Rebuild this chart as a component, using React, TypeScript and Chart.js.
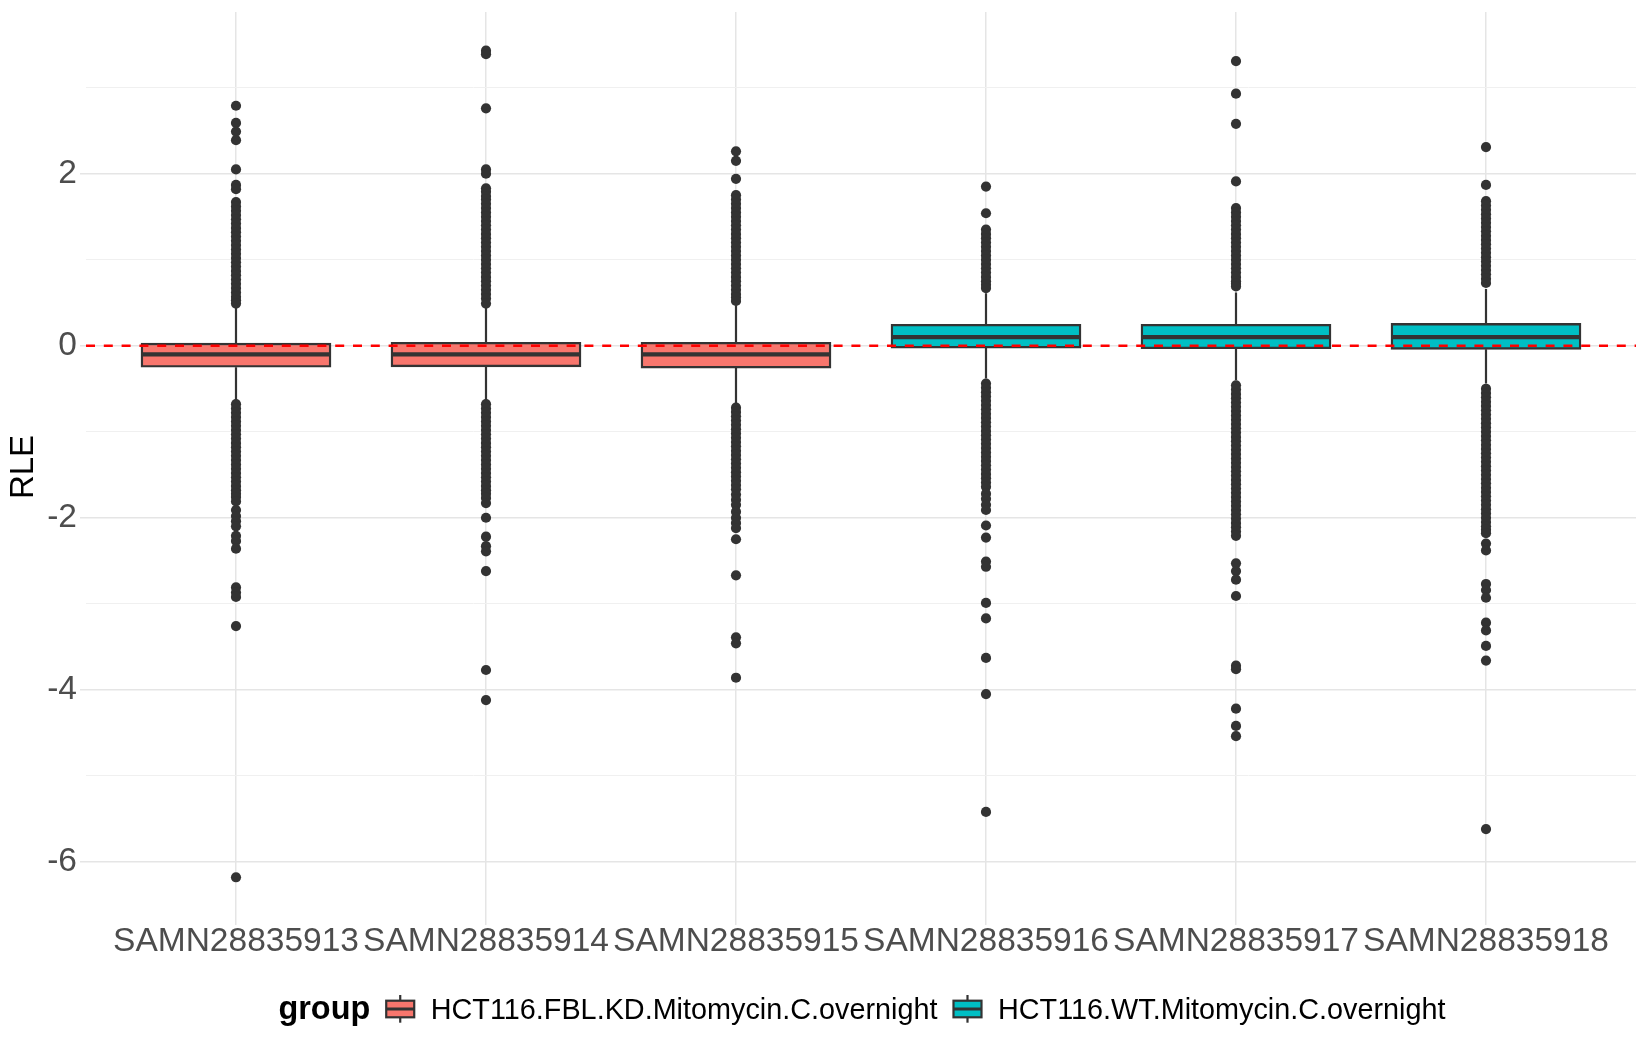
import { useEffect, useRef } from 'react'
import { Chart, registerables, type Plugin } from 'chart.js'

Chart.register(...registerables)

const FONT = "'Liberation Sans', Arial, Helvetica, sans-serif"
const INK = '#333333'
const GRID = '#E5E5E5'
const GRID_MINOR = '#F0F0F0'

/* ------------------------------------------------------------------ */
/*  Data                                                              */
/* ------------------------------------------------------------------ */

const samples = [
  'SAMN28835913',
  'SAMN28835914',
  'SAMN28835915',
  'SAMN28835916',
  'SAMN28835917',
  'SAMN28835918',
]
const sampleGroup = [0, 0, 0, 1, 1, 1]
const legendTitle = 'group'
const groups = ['HCT116.FBL.KD.Mitomycin.C.overnight', 'HCT116.WT.Mitomycin.C.overnight']
const groupColors = ['#F8766D', '#00BFC4']

// box statistics per sample
const q1 = [-0.25, -0.245, -0.26, -0.027, -0.035, -0.042]
const medians = [-0.1, -0.1, -0.1, 0.1, 0.1, 0.1]
const q3 = [0.03, 0.04, 0.04, 0.25, 0.25, 0.26]
const whiskerLow = [-0.63, -0.63, -0.67, -0.38, -0.4, -0.44]
const whiskerHigh = [0.44, 0.44, 0.47, 0.61, 0.62, 0.66]

// outliers (dense runs listed point by point)
const outliers913 = [
  2.79, 2.59, 2.49, 2.39, 2.05, 1.87, 1.82,
  1.67, 1.62, 1.57, 1.52, 1.47, 1.42, 1.37, 1.32, 1.27, 1.22, 1.17, 1.12, 1.07, 1.02,
  0.97, 0.92, 0.87, 0.82, 0.77, 0.72, 0.67, 0.62, 0.57, 0.53, 0.49,
  -0.68, -0.73, -0.78, -0.83, -0.88, -0.93, -0.98, -1.03, -1.08, -1.13, -1.18, -1.23,
  -1.28, -1.33, -1.38, -1.43, -1.48, -1.53, -1.58, -1.63, -1.68, -1.72, -1.76, -1.81,
  -1.91, -1.98, -2.04, -2.1, -2.21, -2.27, -2.36, -2.81, -2.87, -2.92, -3.26, -6.18,
]
const outliers914 = [
  3.43, 3.39, 2.76, 2.05, 2.0,
  1.83, 1.79, 1.74, 1.7, 1.65, 1.6, 1.55, 1.5, 1.45, 1.4, 1.35, 1.3, 1.25, 1.2, 1.15,
  1.1, 1.05, 1.0, 0.95, 0.9, 0.85, 0.8, 0.75, 0.7, 0.65, 0.6, 0.55, 0.49,
  -0.68, -0.73, -0.78, -0.83, -0.88, -0.93, -0.98, -1.03, -1.08, -1.13, -1.18, -1.23,
  -1.28, -1.33, -1.38, -1.43, -1.48, -1.53, -1.58, -1.63, -1.68, -1.72, -1.77,
  -1.83, -2.0, -2.22, -2.33, -2.39, -2.62, -3.77, -4.12,
]
const outliers915 = [
  2.26, 2.15, 1.94,
  1.75, 1.7, 1.65, 1.6, 1.55, 1.5, 1.45, 1.4, 1.35, 1.3, 1.25, 1.2, 1.15, 1.1, 1.05,
  1.0, 0.95, 0.9, 0.85, 0.8, 0.75, 0.7, 0.65, 0.6, 0.56, 0.52,
  -0.72, -0.77, -0.82, -0.87, -0.92, -0.97, -1.02, -1.07, -1.12, -1.17, -1.22, -1.27,
  -1.32, -1.37, -1.42, -1.47, -1.52, -1.57, -1.62, -1.67,
  -1.73, -1.79, -1.85, -1.93, -2.0, -2.06, -2.12, -2.25, -2.67, -3.39, -3.46, -3.86,
]
const outliers916 = [
  1.85, 1.54,
  1.35, 1.3, 1.25, 1.2, 1.15, 1.1, 1.05, 1.0, 0.95, 0.9, 0.85, 0.8, 0.75, 0.71, 0.67,
  -0.44, -0.49, -0.54, -0.59, -0.64, -0.69, -0.74, -0.79, -0.84, -0.89, -0.94, -0.99,
  -1.04, -1.09, -1.14, -1.19, -1.24, -1.29, -1.34, -1.39, -1.44, -1.49, -1.54, -1.59, -1.64,
  -1.72, -1.78, -1.85, -1.91, -2.09, -2.23, -2.51, -2.57, -2.99, -3.17, -3.63, -4.05, -5.42,
]
const outliers917 = [
  3.31, 2.93, 2.58, 1.91,
  1.6, 1.55, 1.5, 1.45, 1.4, 1.35, 1.3, 1.25, 1.2, 1.15, 1.1, 1.05, 1.0, 0.95, 0.9,
  0.85, 0.8, 0.75, 0.72, 0.69,
  -0.46, -0.51, -0.56, -0.61, -0.66, -0.71, -0.76, -0.81, -0.86, -0.91, -0.96, -1.01,
  -1.06, -1.11, -1.16, -1.21, -1.26, -1.31, -1.36, -1.41, -1.46, -1.51, -1.56, -1.61,
  -1.66, -1.71, -1.76, -1.81, -1.86, -1.91, -1.96, -2.01, -2.06, -2.11, -2.16, -2.21,
  -2.53, -2.62, -2.72, -2.91, -3.72, -3.76, -4.22, -4.42, -4.54,
]
const outliers918 = [
  2.31, 1.87,
  1.68, 1.63, 1.58, 1.53, 1.48, 1.43, 1.38, 1.33, 1.28, 1.23, 1.18, 1.13, 1.08, 1.03,
  0.98, 0.93, 0.88, 0.83, 0.78, 0.73,
  -0.5, -0.55, -0.6, -0.65, -0.7, -0.75, -0.8, -0.85, -0.9, -0.95, -1.0, -1.05, -1.1,
  -1.15, -1.2, -1.25, -1.3, -1.35, -1.4, -1.45, -1.5, -1.55, -1.6, -1.65, -1.7, -1.75,
  -1.8, -1.85, -1.9, -1.95, -2.0, -2.05, -2.1, -2.14, -2.18,
  -2.3, -2.38, -2.77, -2.84, -2.93, -3.22, -3.31, -3.49, -3.66, -5.62,
]
const outliers = [outliers913, outliers914, outliers915, outliers916, outliers917, outliers918]

const yMin = -6.7
const yMax = 3.88
const yLabelTicks = [-6, -4, -2, 0, 2]
const refLine = 0

/* ------------------------------------------------------------------ */
/*  Plugins                                                           */
/* ------------------------------------------------------------------ */

const boxDecor: Plugin<'bar'> = {
  id: 'boxDecor',
  beforeDatasetsDraw(chart) {
    const { ctx } = chart
    const x = chart.scales.x
    const y = chart.scales.y
    ctx.save()
    ctx.strokeStyle = INK
    ctx.lineWidth = 2.2
    samples.forEach((_, i) => {
      const px = x.getPixelForValue(i + 1)
      ctx.beginPath()
      ctx.moveTo(px, y.getPixelForValue(q3[i]))
      ctx.lineTo(px, y.getPixelForValue(whiskerHigh[i]))
      ctx.moveTo(px, y.getPixelForValue(q1[i]))
      ctx.lineTo(px, y.getPixelForValue(whiskerLow[i]))
      ctx.stroke()
    })
    ctx.restore()
  },
  afterDatasetsDraw(chart) {
    const { ctx, chartArea } = chart
    const y = chart.scales.y
    const meta = chart.getDatasetMeta(0)
    ctx.save()
    // medians
    ctx.strokeStyle = INK
    ctx.lineWidth = 4.3
    meta.data.forEach((el: any, i) => {
      const { x: bx, width } = el.getProps(['x', 'width'], true)
      const py = y.getPixelForValue(medians[i])
      ctx.beginPath()
      ctx.moveTo(bx - width / 2, py)
      ctx.lineTo(bx + width / 2, py)
      ctx.stroke()
    })
    // dashed reference line
    const ry = y.getPixelForValue(refLine)
    ctx.strokeStyle = '#FF0000'
    ctx.lineWidth = 2.6
    ctx.setLineDash([9, 8.8])
    ctx.beginPath()
    ctx.moveTo(chartArea.left, ry)
    ctx.lineTo(chartArea.right, ry)
    ctx.stroke()
    ctx.restore()
  },
}

const ggLegend: Plugin<'bar'> = {
  id: 'ggLegend',
  afterDraw(chart) {
    const { ctx, chartArea } = chart
    const titleFont = `bold 32.4px ${FONT}`
    const labelFont = `28.8px ${FONT}`
    const keyW = 28
    const gapTitle = 16
    const gapKey = 16.5
    const gapItem = 16
    const baseline = 1019.3

    ctx.save()
    ctx.font = titleFont
    const tw = ctx.measureText(legendTitle).width
    ctx.font = labelFont
    const lw = groups.map((g) => ctx.measureText(g).width)
    const total = tw + lw.reduce((s, w, i) => s + (i ? gapItem : gapTitle) + keyW + gapKey + w, 0)
    let cx = (chartArea.left + chartArea.right) / 2 + 1 - total / 2

    ctx.fillStyle = '#000000'
    ctx.textBaseline = 'alphabetic'
    ctx.textAlign = 'left'
    ctx.font = titleFont
    ctx.fillText(legendTitle, cx, baseline)
    cx += tw

    groups.forEach((g, i) => {
      cx += i ? gapItem : gapTitle
      const mid = cx + keyW / 2
      ctx.strokeStyle = INK
      ctx.lineWidth = 2.2
      ctx.beginPath()
      ctx.moveTo(mid, baseline - 24.3)
      ctx.lineTo(mid, baseline + 3.4)
      ctx.stroke()
      ctx.fillStyle = groupColors[i]
      ctx.fillRect(cx, baseline - 18.6, keyW, 16.6)
      ctx.strokeRect(cx, baseline - 18.6, keyW, 16.6)
      ctx.lineWidth = 3
      ctx.beginPath()
      ctx.moveTo(cx, baseline - 10.3)
      ctx.lineTo(cx + keyW, baseline - 10.3)
      ctx.stroke()
      cx += keyW + gapKey
      ctx.fillStyle = '#000000'
      ctx.font = labelFont
      ctx.fillText(g, cx, baseline)
      cx += lw[i]
    })
    ctx.restore()
  },
}

/* ------------------------------------------------------------------ */
/*  Chart                                                             */
/* ------------------------------------------------------------------ */

function RlePlot() {
  const canvasRef = useRef<HTMLCanvasElement>(null)
  const chartRef = useRef<Chart | null>(null)

  useEffect(() => {
    if (!canvasRef.current) return
    document.body.style.margin = '0'
    Chart.defaults.font.family = FONT

    const boxData = samples.map((_, i) => ({ x: i + 1, y: [q1[i], q3[i]] }))
    const pointData = outliers.flatMap((vals, i) => vals.map((v) => ({ x: i + 1, y: v })))

    chartRef.current = new Chart(canvasRef.current, {
      type: 'bar',
      data: {
        datasets: [
          {
            type: 'bar',
            data: boxData as any,
            backgroundColor: sampleGroup.map((g) => groupColors[g]),
            borderColor: INK,
            borderWidth: 2.4,
            borderSkipped: false,
            barThickness: 190,
          },
          {
            type: 'scatter',
            data: pointData as any,
            pointRadius: 5.1,
            pointHoverRadius: 5.1,
            pointBackgroundColor: INK,
            pointBorderWidth: 0,
          },
        ],
      },
      options: {
        responsive: false,
        animation: false,
        events: [],
        layout: { padding: { left: 0, right: 14, top: 12, bottom: 68 } },
        plugins: { legend: { display: false }, tooltip: { enabled: false } },
        scales: {
          x: {
            type: 'linear',
            min: 0.4,
            max: 6.6,
            offset: false,
            border: { display: false },
            grid: {
              offset: false,
              color: GRID,
              lineWidth: 1.5,
              tickLength: 3,
              tickColor: GRID,
            },
            ticks: {
              stepSize: 1,
              includeBounds: false,
              autoSkip: false,
              maxRotation: 0,
              minRotation: 0,
              padding: 0,
              color: '#4D4D4D',
              font: { size: 33.5, lineHeight: 1 },
              callback: (v) => (Number.isInteger(v) ? samples[(v as number) - 1] ?? '' : ''),
            },
            afterFit: (s: any) => {
              s.height = 60
              s.paddingLeft = 0
              s.paddingRight = 0
            },
          },
          y: {
            type: 'linear',
            min: yMin,
            max: yMax,
            border: { display: false },
            grid: {
              color: (c: any) => (c.tick && c.tick.value % 2 === 0 ? GRID : GRID_MINOR),
              lineWidth: (c: any) => (c.tick && c.tick.value % 2 === 0 ? 1.5 : 1),
              tickLength: 6,
              tickColor: (c: any) => (c.tick && c.tick.value % 2 === 0 ? GRID : 'rgba(0,0,0,0)'),
            },
            ticks: {
              stepSize: 1,
              includeBounds: false,
              autoSkip: false,
              padding: 3,
              color: '#4D4D4D',
              font: { size: 33.5, lineHeight: 1 },
              callback: (v) => (yLabelTicks.includes(v as number) ? String(v) : ''),
            },
            title: {
              display: true,
              text: 'RLE',
              color: '#000000',
              font: { size: 33 },
              padding: { top: 4, bottom: 0 },
            },
            afterFit: (s: any) => {
              s.width = 86
              s.paddingTop = 0
              s.paddingBottom = 0
            },
          },
        },
      },
      plugins: [boxDecor, ggLegend],
    })

    return () => {
      chartRef.current?.destroy()
      chartRef.current = null
    }
  }, [])

  return <canvas ref={canvasRef} width={1650} height={1050} style={{ display: 'block' }} />
}

export default function App() {
  return <RlePlot />
}
